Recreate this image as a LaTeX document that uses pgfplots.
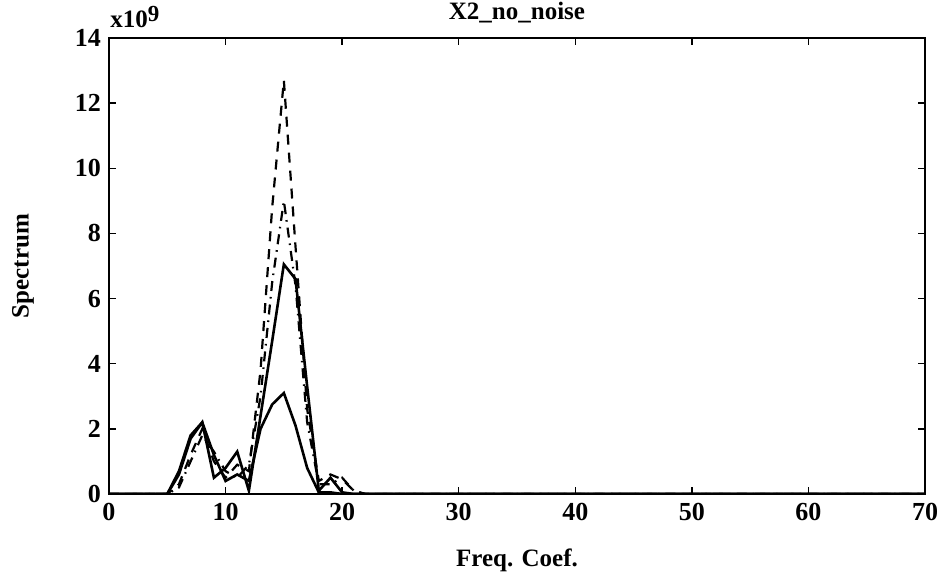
\documentclass[border=0pt]{standalone}
\usepackage{fontspec}
\setmainfont{Liberation Serif}
\usepackage{pgfplots}
\pgfplotsset{compat=1.18}
\begin{document}
\begin{tikzpicture}[font=\fontsize{12.5}{14}\selectfont\bfseries]
\path[use as bounding box] (-54.5pt,-42pt) rectangle (416.5pt,247pt);
\begin{axis}[
  at={(0,0)}, anchor=south west,
  scale only axis, width=408pt, height=228pt,
  xmin=0, xmax=70, ymin=0, ymax=14,
  xtick={0,10,...,70}, ytick={0,2,...,14},
  tick align=inside, major tick length=3.5pt,
  axis line style={line width=1pt},
  every tick/.style={black, line width=0.7pt},
  /pgf/number format/assume math mode=true,
  tick label style={font=\fontsize{13}{15}\selectfont\bfseries},
  xticklabel style={yshift=-1pt},
  yticklabel style={xshift=-0.5pt},
  clip=true,
]
\addplot[black, line width=1.3pt] coordinates {
(0,0) (4,0) (5,0) (6,0.6) (7,1.7) (8,2.2) (9,0.5) (10,0.8) (11,1.3) (12,0.1)
(13,2.4) (14,4.7) (15,7.05) (16,6.6) (17,3.3) (18,0.1) (19,0.5) (20,0.05) (21,0) (70,0)};
\addplot[black, line width=1.3pt] coordinates {
(0,0) (4,0) (5,0) (6,0.7) (7,1.8) (8,2.2) (9,1.2) (10,0.4) (11,0.6) (12,0.4)
(13,2.0) (14,2.75) (15,3.1) (16,2.1) (17,0.8) (18,0.05) (19,0.05) (20,0) (70,0)};
\addplot[black, line width=1.1pt, dash pattern=on 5pt off 4pt] coordinates {
(0,0) (4,0) (5,0) (6,0.3) (7,1.2) (8,2.0) (9,1.0) (10,0.5) (11,0.9) (12,0.7)
(13,3.8) (14,8.8) (15,12.7) (16,7.6) (17,2.6) (18,0.4) (19,0.6) (20,0.45) (21,0.1) (22,0) (70,0)};
\addplot[black, line width=1.1pt, dash pattern=on 5pt off 3pt on 0.8pt off 3pt] coordinates {
(0,0) (4,0) (5,0) (6,0.2) (7,1.0) (8,1.8) (9,1.3) (10,0.7) (11,0.5) (12,0.9)
(13,3.0) (14,6.5) (15,9.0) (16,6.4) (17,2.2) (18,0.3) (19,0.3) (20,0.5) (21,0.1) (22,0) (70,0)};
\end{axis}
\path (408pt,0) ++(-204pt,-33pt) node {Freq. Coef.};
\path (0,114pt) ++(-43pt,0) node[rotate=90] {Spectrum};
\path (204pt,228pt) ++(0,12.5pt) node {X2\_no\_noise};
\node[anchor=base west, inner sep=0pt] at (0.5pt,233pt) {x10\raisebox{3pt}{\fontsize{11.5}{12}\selectfont 9}};
\end{tikzpicture}
\end{document}
